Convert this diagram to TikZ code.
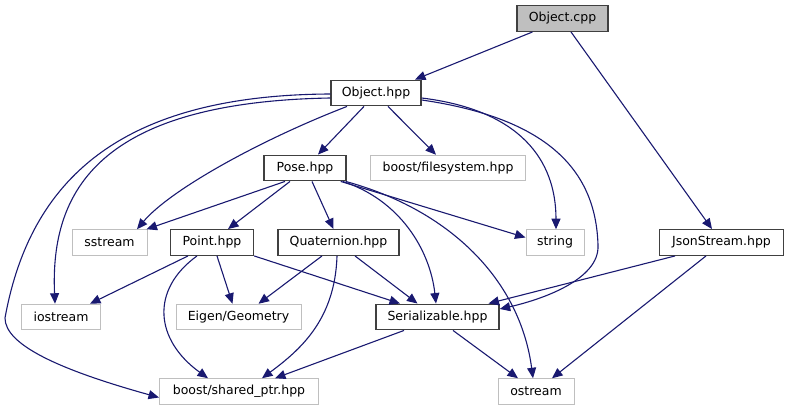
\documentclass[tikz,border=0pt]{standalone}
\usepackage{fontspec}
\setmainfont{DejaVu Sans}
\usetikzlibrary{arrows.meta}
\definecolor{edgeblue}{RGB}{25,25,112}
\definecolor{boxgray}{RGB}{191,191,191}
\definecolor{boxdark}{RGB}{64,64,64}

\begin{document}
\begin{tikzpicture}[x=1pt, y=1pt,
	hdr/.style={draw=boxdark, line width=1.4pt, minimum height=25.5pt, inner sep=0pt, font=\fontsize{12.5}{15}\selectfont},
	sys/.style={hdr, draw=boxgray, line width=1pt},
	dep/.style={draw=edgeblue, line width=1.1pt, -{Triangle[length=10.5pt,width=9pt]}}]
			%%%%% START %%%%%
			
			\useasboundingbox (0,0) rectangle (789,-411);
			
			\node[hdr, fill=boxgray, minimum width=91pt] (objcpp) at (562.5,-18.5) {Object.cpp};
			\node[hdr, minimum width=90pt] (objhpp) at (376,-93) {Object.hpp};
			
			\node[hdr, minimum width=82pt] (pose) at (305,-168) {Pose.hpp};
			\node[sys, minimum width=155pt] (fs) at (448,-168) {boost/filesystem.hpp};
			
			\node[sys, minimum width=75pt] (sstream) at (109.5,-242.5) {sstream};
			\node[hdr, minimum width=83pt] (point) at (212,-242.5) {Point.hpp};
			\node[hdr, minimum width=121pt] (quat) at (338.5,-242.5) {Quaternion.hpp};
			\node[sys, minimum width=58pt] (string) at (555,-242.5) {string};
			\node[hdr, minimum width=124pt] (json) at (721.5,-242.5) {JsonStream.hpp};
			
			\node[sys, minimum width=79pt] (iostream) at (61,-317) {iostream};
			\node[sys, minimum width=125pt] (eigen) at (238.5,-317) {Eigen/Geometry};
			\node[hdr, minimum width=123pt] (serial) at (437.5,-317) {Serializable.hpp};
			
			\node[sys, minimum width=159pt] (shptr) at (239,-391.5) {boost/shared\_ptr.hpp};
			\node[sys, minimum width=76pt] (ostream) at (536,-391.5) {ostream};
			
			% Object.cpp
			\draw[dep] ([xshift=-30pt]objcpp.south) -- ([xshift=39pt]objhpp.north);
			\draw[dep] ([xshift=8.5pt]objcpp.south) -- ([xshift=-9.5pt]json.north);
			
			% Object.hpp
			\draw[dep] ([xshift=-12pt]objhpp.south) -- ([xshift=13pt]pose.north);
			\draw[dep] ([xshift=12pt]objhpp.south) -- ([xshift=-12pt]fs.north);
			\draw[dep] ([xshift=-29pt]objhpp.south) .. controls (260,-140) and (170,-190) .. ([xshift=27.5pt]sstream.north);
			\draw[dep] ([yshift=-5pt]objhpp.west) .. controls (100,-102) and (50,-190) .. ([xshift=-6pt]iostream.north);
			\draw[dep] ([yshift=-1pt]objhpp.west) .. controls (120,-95) and (30,-180) .. (5,-318) .. controls (5,-345) and (60,-370) .. ([yshift=-6pt]shptr.west);
			\draw[dep] ([yshift=-5pt]objhpp.east) .. controls (520,-110) and (556,-160) .. ([xshift=1pt]string.north);
			\draw[dep] ([yshift=-7pt]objhpp.east) .. controls (560,-120) and (596,-180) .. (598,-245) .. controls (600,-280) and (540,-300) .. ([yshift=8pt]serial.east);
			
			% Pose.hpp
			\draw[dep] ([xshift=-20pt]pose.south) -- ([xshift=37pt]sstream.north);
			\draw[dep] ([xshift=-15pt]pose.south) -- ([xshift=16pt]point.north);
			\draw[dep] ([xshift=7pt]pose.south) -- ([xshift=-5pt]quat.north);
			\draw[dep] ([xshift=-6pt]pose.south east) -- ([yshift=5pt]string.west);
			\draw[dep] ([xshift=-4pt]pose.south east) .. controls (400,-200) and (430,-250) .. ([xshift=-1.5pt]serial.north);
			\draw[dep] ([xshift=-1pt]pose.south east) .. controls (450,-210) and (520,-280) .. ([xshift=-3pt]ostream.north);
			
			% Point.hpp
			\draw[dep] ([xshift=-24pt]point.south) -- ([xshift=29pt]iostream.north);
			\draw[dep] ([xshift=5pt]point.south) -- ([xshift=-6pt]eigen.north);
			\draw[dep] (point.south east) -- ([xshift=-37.5pt]serial.north);
			\draw[dep] ([xshift=-15pt]point.south) .. controls (150,-290) and (155,-340) .. ([xshift=-31pt]shptr.north);
			
			% Quaternion.hpp
			\draw[dep] ([xshift=-16.5pt]quat.south) -- ([xshift=20pt]eigen.north);
			\draw[dep] ([xshift=16.5pt]quat.south) -- ([xshift=-20pt]serial.north);
			\draw[dep] ([xshift=-1.5pt]quat.south) .. controls (335,-320) and (300,-350) .. ([xshift=23pt]shptr.north);
			
			% JsonStream.hpp
			\draw[dep] ([xshift=-46.5pt]json.south) -- ([xshift=51pt]serial.north);
			\draw[dep] ([xshift=-15.5pt]json.south) -- ([xshift=16pt]ostream.north);
			
			% Serializable.hpp
			\draw[dep] ([xshift=-33.5pt]serial.south) -- ([xshift=36pt]shptr.north);
			\draw[dep] ([xshift=15.5pt]serial.south) -- ([xshift=-18pt]ostream.north);
			
			%%%%% END %%%%%
\end{tikzpicture}
\end{document}
